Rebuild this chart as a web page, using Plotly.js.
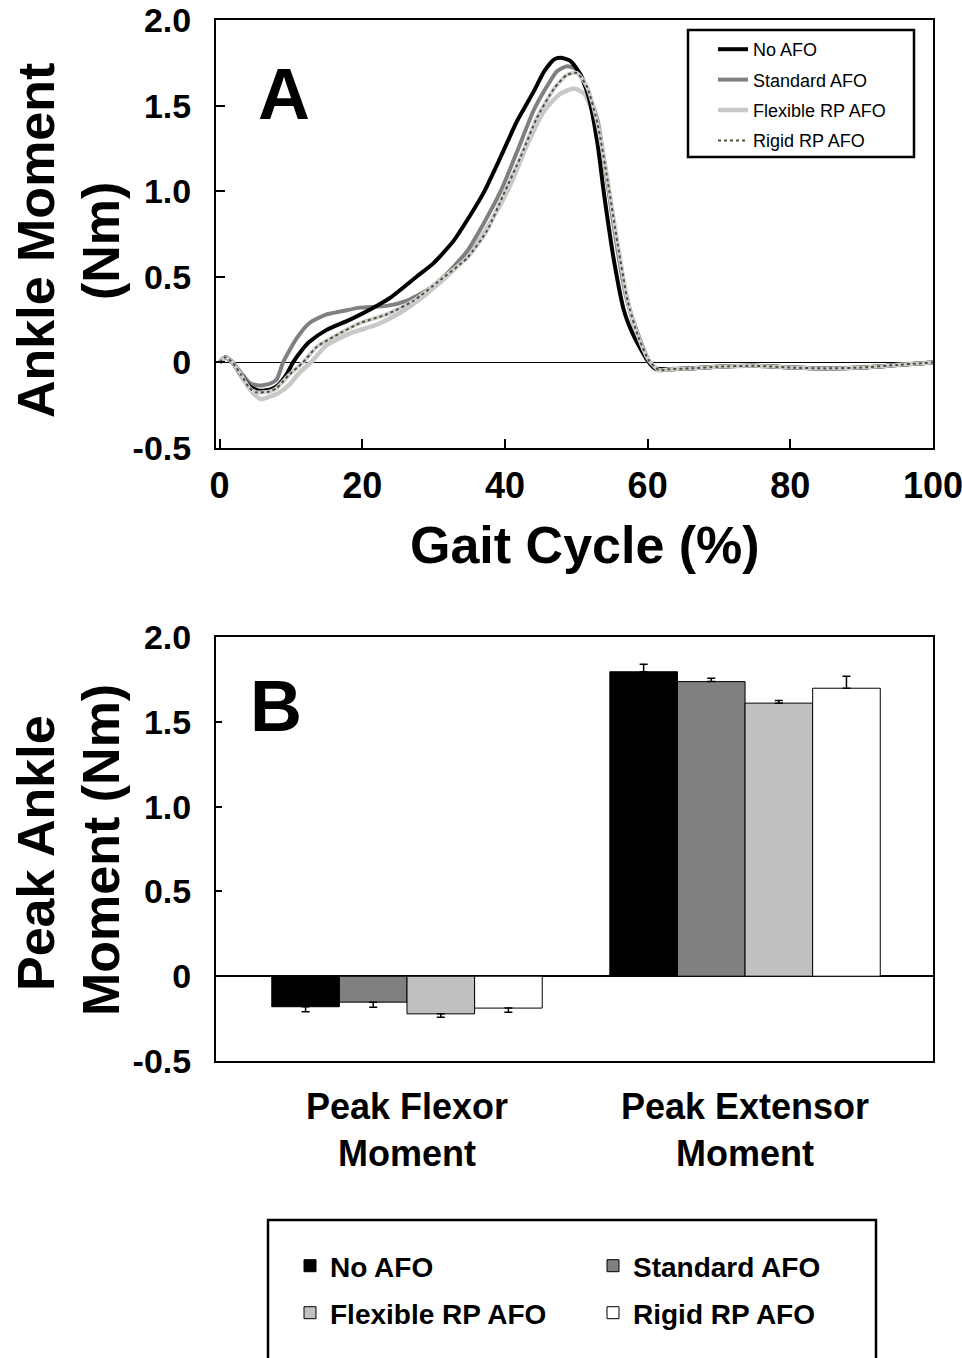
<!DOCTYPE html>
<html>
<head>
<meta charset="utf-8">
<script src="https://cdn.plot.ly/plotly-3.0.1.min.js"></script>
<style>html,body{margin:0;padding:0;background:#fff;}#chart{width:962px;height:1358px;}</style>
</head>
<body>
<div id="chart"></div>
<script>
// ---------- Panel A: ankle moment over the gait cycle ----------
const noAfoX = [0, 0.8, 1.8, 3.0, 4.2, 5.5, 7.0, 8.0, 9.4, 10.3, 11.5, 12.6, 15.0, 18.3, 22.0, 24.0, 27.6, 30.0, 32.8, 34.7, 37.0, 39.4, 41.7, 44.0, 45.5, 46.9, 47.8, 49.2, 50.6, 51.8, 53.0, 53.9, 55.3, 56.7, 58.1, 60.0, 61.0, 63, 66, 70, 75, 80, 85, 90, 95, 100];
const noAfoY = [0.0, 0.03, 0.0, -0.07, -0.14, -0.165, -0.16, -0.14, -0.07, 0.0, 0.07, 0.12, 0.19, 0.25, 0.33, 0.38, 0.50, 0.58, 0.71, 0.83, 0.99, 1.20, 1.41, 1.58, 1.70, 1.77, 1.78, 1.76, 1.68, 1.54, 1.27, 0.98, 0.59, 0.30, 0.15, 0.01, -0.035, -0.04, -0.035, -0.025, -0.02, -0.03, -0.035, -0.03, -0.015, 0.0];

const standardX = [0, 0.8, 1.8, 3.0, 4.2, 5.5, 7.0, 8.0, 8.9, 10.8, 12.6, 15.0, 17.3, 19.7, 23.4, 26.2, 29.0, 31.9, 34.7, 37.0, 39.4, 41.7, 44.0, 46.0, 47.3, 48.7, 50.1, 51.5, 53.0, 54.1, 55.5, 56.9, 58.6, 60.2, 61.4, 63, 66, 70, 75, 80, 85, 90, 95, 100];
const standardY = [0.0, 0.03, 0.0, -0.06, -0.12, -0.135, -0.125, -0.10, 0.0, 0.14, 0.23, 0.28, 0.30, 0.32, 0.33, 0.36, 0.42, 0.52, 0.65, 0.81, 1.00, 1.23, 1.47, 1.62, 1.70, 1.73, 1.71, 1.60, 1.41, 1.12, 0.73, 0.40, 0.17, 0.01, -0.04, -0.04, -0.035, -0.025, -0.02, -0.03, -0.035, -0.03, -0.015, 0.0];

const flexibleX = [0, 0.8, 1.8, 3.0, 4.5, 5.8, 7.0, 8.0, 9.8, 11.2, 12.8, 15.0, 18.3, 22.0, 25.3, 29.0, 32.8, 36.0, 38.4, 40.8, 43.1, 45.5, 47.8, 49.7, 51.1, 52.5, 53.9, 55.3, 56.7, 58.1, 60.0, 61.4, 63, 66, 70, 75, 80, 85, 90, 95, 100];
const flexibleY = [0.0, 0.03, 0.0, -0.08, -0.17, -0.215, -0.20, -0.185, -0.13, -0.06, 0.0, 0.10, 0.17, 0.22, 0.29, 0.40, 0.54, 0.69, 0.85, 1.04, 1.27, 1.47, 1.57, 1.60, 1.57, 1.43, 1.18, 0.81, 0.46, 0.21, 0.01, -0.045, -0.04, -0.035, -0.025, -0.02, -0.03, -0.035, -0.03, -0.015, 0.0];

const rigidX = [0, 0.8, 1.8, 3.0, 4.2, 5.2, 7.0, 8.0, 9.8, 11.7, 13.6, 16.0, 19.7, 23.4, 27.2, 30.9, 34.7, 37.5, 39.8, 42.2, 44.5, 46.9, 48.7, 50.1, 51.5, 53.0, 54.4, 55.8, 57.2, 58.6, 60.2, 61.6, 63, 66, 70, 75, 80, 85, 90, 95, 100];
const rigidY = [0.0, 0.03, 0.0, -0.07, -0.15, -0.175, -0.17, -0.15, -0.07, 0.0, 0.09, 0.15, 0.23, 0.28, 0.36, 0.48, 0.61, 0.77, 0.98, 1.20, 1.43, 1.60, 1.68, 1.69, 1.61, 1.39, 1.06, 0.69, 0.36, 0.16, 0.01, -0.045, -0.04, -0.035, -0.025, -0.02, -0.03, -0.035, -0.03, -0.015, 0.0];

const gaitTicks = [0, 20, 40, 60, 80, 100];
const momentTicks = [-0.5, 0, 0.5, 1.0, 1.5, 2.0];
const momentTickText = ['-0.5', '0', '0.5', '1.0', '1.5', '2.0'];

// ---------- Panel B: peak moments ----------
const categories = ['Peak Flexor<br>Moment', 'Peak Extensor<br>Moment'];
const seriesNames = ['No AFO', 'Standard AFO', 'Flexible RP AFO', 'Rigid RP AFO'];
const peakNoAfo = [-0.18, 1.795];
const peakStandard = [-0.153, 1.737];
const peakFlexible = [-0.222, 1.61];
const peakRigid = [-0.188, 1.698];
const errNoAfo = [0.03, 0.045];
const errStandard = [0.03, 0.02];
const errFlexible = [0.02, 0.015];
const errRigid = [0.024, 0.07];

const FONT = 'Liberation Sans, Arial, Helvetica, sans-serif';
const W = 962, H = 1358;
const px = v => v / W;
const py = v => 1 - v / H;

const lineTraces = [
  {x: flexibleX, y: flexibleY, name: 'Flexible RP AFO', legendgroup: 'flex', legendrank: 3,
   line: {color: '#c8c8c8', width: 4.5, shape: 'spline', smoothing: 0.6}},
  {x: standardX, y: standardY, name: 'Standard AFO', legendgroup: 'std', legendrank: 2,
   line: {color: '#808080', width: 4, shape: 'spline', smoothing: 0.6}},
  {x: noAfoX, y: noAfoY, name: 'No AFO', legendgroup: 'no', legendrank: 1,
   line: {color: '#000000', width: 4, shape: 'spline', smoothing: 0.6}},
  {x: rigidX, y: rigidY, name: 'Rigid RP AFO', legendgroup: 'rigid', legendrank: 4, showlegend: false,
   line: {color: '#cfcfcf', width: 4, shape: 'spline', smoothing: 0.6}},
  {x: rigidX, y: rigidY, name: 'Rigid RP AFO', legendgroup: 'rigid', legendrank: 4,
   line: {color: '#4e4e36', width: 2, dash: 'dot', shape: 'spline', smoothing: 0.6}}
].map(t => Object.assign({type: 'scatter', mode: 'lines', xaxis: 'x', yaxis: 'y', legend: 'legend', hoverinfo: 'skip'}, t));

const barColors = ['#000000', '#808080', '#c0c0c0', '#ffffff'];
const barValues = [peakNoAfo, peakStandard, peakFlexible, peakRigid];
const barErrors = [errNoAfo, errStandard, errFlexible, errRigid];
const barLegends = ['legend2', 'legend3', 'legend4', 'legend5'];

const barTraces = seriesNames.map((name, i) => ({
  type: 'bar', name: name, x: categories, y: barValues[i], xaxis: 'x2', yaxis: 'y2',
  legend: barLegends[i],
  marker: {color: barColors[i], line: {color: '#000000', width: 1}},
  error_y: {
    type: 'data', symmetric: false, visible: true,
    array: barValues[i].map((v, k) => v >= 0 ? barErrors[i][k] : 0),
    arrayminus: barValues[i].map((v, k) => v < 0 ? barErrors[i][k] : 0),
    color: '#000000', thickness: 1.5, width: 4
  },
  hoverinfo: 'skip'
}));

const bigFont = {family: FONT, size: 52, color: '#000', weight: 700};

const barLegendPos = [[290, 1266], [593, 1266], [290, 1313], [593, 1313]];
const legendCommon = {
  orientation: 'v', xanchor: 'left', yanchor: 'middle', bgcolor: 'rgba(0,0,0,0)', borderwidth: 0,
  font: {family: FONT, size: 28, color: '#000', weight: 700}
};

const layout = {
  width: W, height: H,
  margin: {l: 0, r: 0, t: 0, b: 0, pad: 0},
  paper_bgcolor: '#ffffff', plot_bgcolor: '#ffffff',
  font: {family: FONT, color: '#000'},
  showlegend: true,
  barmode: 'group', bargap: 0.2, bargroupgap: 0,
  xaxis: {
    domain: [px(216), px(933)], range: [-0.5, 100], anchor: 'y',
    tickvals: gaitTicks, ticks: 'inside', ticklen: 9, tickwidth: 2, tickcolor: '#000',
    showline: true, linewidth: 2, linecolor: '#000', mirror: true,
    showgrid: false, zeroline: false, ticklabeloverflow: 'allow',
    tickfont: {family: FONT, size: 36, color: '#000', weight: 700}, ticklabelstandoff: 5
  },
  yaxis: {
    domain: [py(448), py(20)], range: [-0.5, 2.0], anchor: 'x',
    tickvals: momentTicks, ticktext: momentTickText, ticks: 'inside', ticklen: 9, tickwidth: 2, tickcolor: '#000',
    showline: true, linewidth: 2, linecolor: '#000', mirror: true,
    showgrid: false, zeroline: true, zerolinecolor: '#000', zerolinewidth: 1,
    tickfont: {family: FONT, size: 34, color: '#000', weight: 700}, ticklabelstandoff: 16
  },
  xaxis2: {
    domain: [px(216), px(933)], type: 'category', range: [-0.565, 1.556], anchor: 'y2',
    ticks: '', showline: true, linewidth: 2, linecolor: '#000', mirror: true,
    showgrid: false, zeroline: false,
    tickfont: {family: FONT, size: 36, color: '#000', weight: 700}, ticklabelstandoff: 13
  },
  yaxis2: {
    domain: [py(1061), py(637)], range: [-0.5, 2.0], anchor: 'x2',
    tickvals: momentTicks, ticktext: momentTickText, ticks: 'inside', ticklen: 6, tickwidth: 2, tickcolor: '#000',
    showline: true, linewidth: 2, linecolor: '#000', mirror: true,
    showgrid: false, zeroline: true, zerolinecolor: '#000', zerolinewidth: 2,
    tickfont: {family: FONT, size: 34, color: '#000', weight: 700}, ticklabelstandoff: 16
  },
  legend: {
    x: px(713), y: py(31), xanchor: 'left', yanchor: 'top',
    bgcolor: 'rgba(0,0,0,0)', borderwidth: 0, traceorder: 'grouped', tracegroupgap: 4,
    font: {family: FONT, size: 18, color: '#000'}
  },
  legend2: Object.assign({}, legendCommon, {x: px(barLegendPos[0][0]), y: py(barLegendPos[0][1])}),
  legend3: Object.assign({}, legendCommon, {x: px(barLegendPos[1][0]), y: py(barLegendPos[1][1])}),
  legend4: Object.assign({}, legendCommon, {x: px(barLegendPos[2][0]), y: py(barLegendPos[2][1])}),
  legend5: Object.assign({}, legendCommon, {x: px(barLegendPos[3][0]), y: py(barLegendPos[3][1])}),
  shapes: [
    {type: 'rect', xref: 'paper', yref: 'paper', x0: px(688), x1: px(914), y0: py(157), y1: py(30),
     line: {color: '#000', width: 2.5}, fillcolor: 'rgba(0,0,0,0)', layer: 'above'},
    {type: 'rect', xref: 'paper', yref: 'paper', x0: px(268), x1: px(876), y0: py(1372), y1: py(1220),
     line: {color: '#000', width: 2.5}, fillcolor: 'rgba(0,0,0,0)', layer: 'above'}
  ],
  annotations: [
    {text: 'A', xref: 'paper', yref: 'paper', x: px(284), y: py(94), xanchor: 'center', yanchor: 'middle', showarrow: false,
     font: {family: FONT, size: 72, color: '#000', weight: 700}},
    {text: 'B', xref: 'paper', yref: 'paper', x: px(276), y: py(706), xanchor: 'center', yanchor: 'middle', showarrow: false,
     font: {family: FONT, size: 72, color: '#000', weight: 700}},
    {text: 'Ankle Moment', xref: 'paper', yref: 'paper', x: px(36), y: py(241), textangle: -90, showarrow: false,
     xanchor: 'center', yanchor: 'middle', font: bigFont},
    {text: '(Nm)', xref: 'paper', yref: 'paper', x: px(101), y: py(241), textangle: -90, showarrow: false,
     xanchor: 'center', yanchor: 'middle', font: bigFont},
    {text: 'Gait Cycle (%)', xref: 'paper', yref: 'paper', x: px(585), y: py(545), showarrow: false,
     xanchor: 'center', yanchor: 'middle', font: bigFont},
    {text: 'Peak Ankle', xref: 'paper', yref: 'paper', x: px(36), y: py(853), textangle: -90, showarrow: false,
     xanchor: 'center', yanchor: 'middle', font: bigFont},
    {text: 'Moment (Nm)', xref: 'paper', yref: 'paper', x: px(101), y: py(850), textangle: -90, showarrow: false,
     xanchor: 'center', yanchor: 'middle', font: bigFont}
  ]
};

Plotly.newPlot('chart', lineTraces.concat(barTraces), layout, {displayModeBar: false, staticPlot: true});
</script>
</body>
</html>
